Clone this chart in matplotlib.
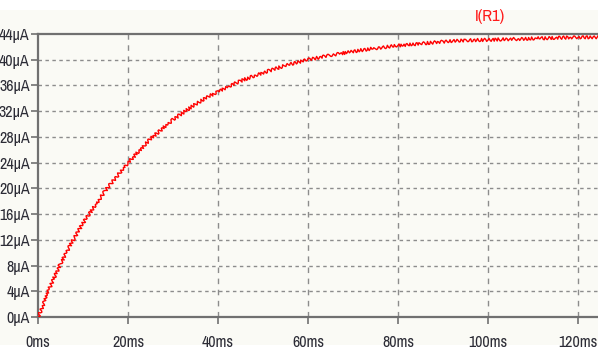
import matplotlib
matplotlib.use("Agg")
import matplotlib.pyplot as plt
from matplotlib import font_manager
from matplotlib.patches import Rectangle
from matplotlib.ticker import FuncFormatter

time_ms = [0, 1, 2.5, 5, 7.5, 10, 15, 20, 25, 30, 35, 40, 45, 50, 55, 60,
           65, 70, 75, 80, 85, 90, 95, 100, 105, 110, 115, 120, 124.4]
current_uA = [0, 1.6, 4.4, 8.3, 11.6, 14.6, 19.7, 24.0, 27.7, 30.7, 33.1,
              35.1, 36.7, 38.0, 39.1, 40.0, 40.7, 41.3, 41.8, 42.2, 42.5,
              42.8, 43.0, 43.1, 43.2, 43.3, 43.4, 43.5, 43.5]
x_ticks = [0, 20, 40, 60, 80, 100, 120]
y_ticks = list(range(0, 45, 4))
trace_name = "I(R1)"

# a narrow face if one is around, otherwise plain DejaVu at a smaller size
narrow = None
for f in font_manager.fontManager.ttflist:
    if "Narrow" in f.name or ("Condensed" in f.name and "DejaVu" in f.name):
        narrow = f.name
        break
if narrow:
    fam, size = [narrow, "DejaVu Sans"], 11.5
else:
    fam, size = ["DejaVu Sans"], 8.2

fig = plt.figure(figsize=(5.98, 3.53), dpi=100)
fig.patch.set_facecolor("white")
fig.patches.append(Rectangle((0, 8 / 353), 1, 1 - 18 / 353, transform=fig.transFigure,
                             facecolor="#fafaf5", edgecolor="none", zorder=-10))

ax = fig.add_axes([38 / 598, 1 - 317 / 353, 1 - 38 / 598, (317 - 34) / 353])
ax.set_facecolor("#fafaf5")

line, = ax.plot(time_ms, current_uA, color="#ff0000", linewidth=1.0, zorder=3)
line.set_sketch_params(scale=1.6, length=4, randomness=2)

ax.set_xlim(0, 124.4)
ax.set_ylim(0, 44)
ax.set_xticks(x_ticks)
ax.set_yticks(y_ticks)
ax.xaxis.set_major_formatter(FuncFormatter(lambda v, p: f"{v:.0f}ms"))
ax.yaxis.set_major_formatter(FuncFormatter(lambda v, p: f"{v:.0f}µA"))

for x in x_ticks[1:]:
    ax.axvline(x, color="#8c8c8c", linewidth=1.0, linestyle=(0, (4, 4)), zorder=1)
for y in y_ticks[1:-1]:
    ax.axhline(y, color="#8c8c8c", linewidth=1.0, linestyle=(0, (2.5, 2.5)), zorder=1)

for s in ["top", "bottom", "left"]:
    ax.spines[s].set_color("#707070")
    ax.spines[s].set_linewidth(1.6)
ax.spines["right"].set_visible(False)

ax.tick_params(axis="both", colors="#707070", length=5, width=1.2, labelcolor="#2c2c36")
ax.tick_params(axis="x", pad=8)
ax.tick_params(axis="y", pad=1)
for lbl in ax.get_xticklabels() + ax.get_yticklabels():
    lbl.set_fontfamily(fam)
    lbl.set_fontsize(size)
    lbl.set_fontweight("medium")

fig.text(490 / 598, 1 - 16 / 353, trace_name, color="#ff1a1a", ha="center", va="center",
         family=fam, fontsize=size + 0.5)

fig.savefig("out.png", dpi=100, facecolor=fig.get_facecolor())
